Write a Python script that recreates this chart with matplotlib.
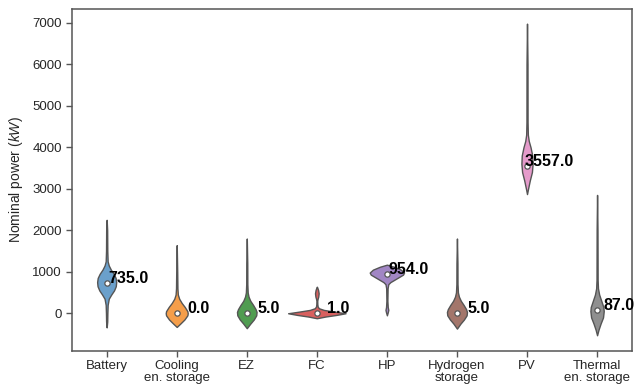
import matplotlib
matplotlib.use("Agg")
from matplotlib import pyplot as plt

plt.rcParams['font.family'] = ['Liberation Sans', 'DejaVu Sans']
plt.rcParams['mathtext.fontset'] = 'custom'
plt.rcParams['mathtext.rm'] = 'Liberation Sans'
plt.rcParams['mathtext.it'] = 'Liberation Sans:italic'

CATEGORIES = ["Battery", "Cooling\nen. storage", "EZ", "FC", "HP",
              "Hydrogen\nstorage", "PV", "Thermal\nen. storage"]
MEDIANS = [735.0, 0.0, 5.0, 1.0, 954.0, 5.0, 3557.0, 87.0]
COLORS = ["#6ba0cb", "#f59e4a", "#509c51", "#d8605f",
          "#a186c4", "#a3766b", "#e59bcb", "#8f8f8f"]

# violin outlines: kW levels and half widths
battery_kw = [-340, -200, 0, 200, 350, 450, 550, 650, 750, 850, 950, 1050, 1150, 1250, 1500, 2000, 2250]
battery_w = [0, 0.008, 0.01, 0.014, 0.03, 0.065, 0.105, 0.13, 0.136, 0.128, 0.1, 0.06, 0.03, 0.014, 0.009, 0.007, 0]

cooling_kw = [-330, -250, -150, -50, 0, 50, 150, 250, 350, 450, 600, 1000, 1640]
cooling_w = [0, 0.05, 0.11, 0.152, 0.157, 0.152, 0.115, 0.07, 0.035, 0.016, 0.01, 0.007, 0]

ez_kw = [-360, -250, -150, -50, 30, 100, 200, 300, 400, 500, 700, 1200, 1800]
ez_w = [0, 0.05, 0.1, 0.135, 0.14, 0.125, 0.09, 0.05, 0.025, 0.013, 0.008, 0.007, 0]

fc_kw = [-120, -80, -40, 0, 40, 80, 120, 160, 220, 300, 340, 400, 480, 560, 620, 640]
fc_w = [0, 0.12, 0.28, 0.41, 0.25, 0.1, 0.03, 0.012, 0.007, 0.006, 0.01, 0.02, 0.026, 0.018, 0.006, 0]

hp_kw = [-50, 20, 80, 150, 300, 600, 700, 750, 800, 870, 930, 980, 1050, 1120, 1170]
hp_w = [0, 0.012, 0.02, 0.012, 0.007, 0.01, 0.02, 0.05, 0.1, 0.17, 0.23, 0.245, 0.2, 0.1, 0]

hydrogen_kw = [-370, -250, -150, -50, 30, 100, 200, 300, 400, 500, 700, 1200, 1800]
hydrogen_w = [0, 0.05, 0.1, 0.138, 0.143, 0.13, 0.095, 0.055, 0.028, 0.014, 0.008, 0.007, 0]

pv_kw = [2870, 3000, 3200, 3400, 3600, 3800, 4000, 4150, 4300, 4600, 6000, 6975]
pv_w = [0, 0.015, 0.04, 0.07, 0.08, 0.075, 0.05, 0.025, 0.012, 0.008, 0.007, 0]

thermal_kw = [-530, -400, -250, -100, 50, 150, 300, 450, 600, 800, 2000, 2850]
thermal_w = [0, 0.02, 0.05, 0.085, 0.095, 0.09, 0.06, 0.03, 0.013, 0.008, 0.006, 0]

PROFILES = [(battery_kw, battery_w), (cooling_kw, cooling_w), (ez_kw, ez_w),
            (fc_kw, fc_w), (hp_kw, hp_w), (hydrogen_kw, hydrogen_w),
            (pv_kw, pv_w), (thermal_kw, thermal_w)]

EDGE = "#555555"

fig = plt.figure(figsize=(6.34, 3.87), dpi=100)
ax = fig.add_axes([0.113, 0.094, 0.884, 0.883])

for i, (kw, w) in enumerate(PROFILES):
    left = [i - v for v in w]
    right = [i + v for v in w]
    ax.fill_betweenx(kw, left, right, facecolor=COLORS[i], edgecolor=EDGE,
                     linewidth=1.0, zorder=2)
    ax.plot([i], [MEDIANS[i]], 'o', markersize=3.8, markerfacecolor='white',
            markeredgecolor=EDGE, markeredgewidth=0.9, zorder=3)
    ax.text(i + 0.31, MEDIANS[i], f"{MEDIANS[i]}", ha='center', va='baseline',
            fontsize=11.5, fontweight='bold', color='black', zorder=4)

ax.set_xlim(-0.5, 7.5)
ax.set_ylim(-900, 7330)
ax.set_xticks(range(len(CATEGORIES)))
ax.set_xticklabels(CATEGORIES, linespacing=1.0)
ax.set_yticks(range(0, 8000, 1000))
ax.set_ylabel("Nominal power ($kW$)", fontsize=10, color='#262626', labelpad=5)

for s in ax.spines.values():
    s.set_color(EDGE)
    s.set_linewidth(1.1)
ax.tick_params(direction='out', length=4.5, width=1.0, color=EDGE,
               labelcolor='#262626', labelsize=9.5, pad=2.5)

fig.savefig("out.png", dpi=100)
